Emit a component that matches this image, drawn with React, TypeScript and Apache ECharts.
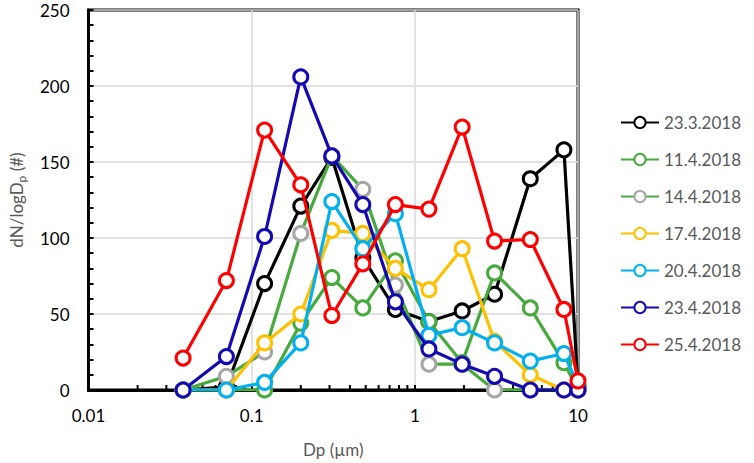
import React, { useEffect, useRef } from "react";
import * as echarts from "echarts";

const diameters = [0.038, 0.07, 0.12, 0.2, 0.31, 0.48, 0.76, 1.22, 1.95, 3.08, 5.1, 8.2, 10];

const s23_3 = [0, 2, 70, 121, 153, 87, 53, 45, 52, 63, 139, 158, 2];
const s11_4 = [0, 0, 0, 44, 74, 54, 85, 45, 18, 77, 54, 18, 0];
const s14_4 = [0, 9, 25, 103, 154, 132, 69, 17, 17, 0, 0, 0, 0];
const s17_4 = [0, 0, 31, 50, 105, 103, 80, 66, 93, 32, 10, 0, 0];
const s20_4 = [0, 0, 5, 31, 124, 93, 116, 36, 41, 31, 19, 24, 3];
const s23_4 = [0, 22, 101, 206, 154, 122, 58, 27, 17, 9, 0, 0, 0];
const s25_4 = [21, 72, 171, 135, 49, 83, 122, 119, 173, 98, 99, 53, 6];

const seriesNames = ["23.3.2018", "11.4.2018", "14.4.2018", "17.4.2018", "20.4.2018", "23.4.2018", "25.4.2018"];
const seriesValues = [s23_3, s11_4, s14_4, s17_4, s20_4, s23_4, s25_4];
const lineColors = ["#000000", "#46AA3C", "#46AA3C", "#FFC000", "#00B0F0", "#140AB4", "#FF0000"];
const markerColors = ["#000000", "#46AA3C", "#A6A6A6", "#FFC000", "#00B0F0", "#140AB4", "#FF0000"];

const minorTickValues = [
  0.02, 0.03, 0.04, 0.05, 0.06, 0.07, 0.08, 0.09,
  0.2, 0.3, 0.4, 0.5, 0.6, 0.7, 0.8, 0.9,
  2, 3, 4, 5, 6, 7, 8, 9,
];

const FONT = "Lato";

export default function App() {
  const ref = useRef<HTMLDivElement>(null);

  useEffect(() => {
    if (!ref.current) return;
    const chart = echarts.init(ref.current, undefined, { renderer: "svg" });

    const lineSeries = seriesNames.map((name, i) => ({
      name,
      type: "line",
      data: diameters.map((d, j) => [d, seriesValues[i][j]]),
      symbol: "circle",
      symbolSize: 14,
      z: 3 + i,
      lineStyle: { color: lineColors[i], width: 3.2 },
      itemStyle: { color: "#ffffff", borderColor: markerColors[i], borderWidth: 3 },
      emphasis: { disabled: true },
    }));

    const tickSeries = {
      name: "minorTicks",
      type: "custom",
      z: 1,
      silent: true,
      data: minorTickValues.map((v) => [v, 0]),
      encode: { x: 0, y: 1 },
      renderItem: (params: any, api: any) => {
        const p = api.coord([api.value(0), 0]);
        return {
          type: "line",
          shape: { x1: p[0], y1: p[1], x2: p[0], y2: p[1] - 5 },
          style: { stroke: "#000", lineWidth: 2 },
        };
      },
    };

    chart.setOption({
      animation: false,
      grid: {
        left: 87,
        top: 10,
        right: 176,
        bottom: 71.5,
        show: true,
        borderColor: "#000",
        borderWidth: 3,
        backgroundColor: "transparent",
      },
      legend: {
        data: seriesNames,
        orient: "vertical",
        left: 620,
        top: 114,
        padding: 0,
        itemWidth: 38,
        itemHeight: 14,
        itemGap: 20,
        textStyle: { fontSize: 17, color: "#595959", fontFamily: FONT },
      },
      xAxis: {
        type: "log",
        logBase: 10,
        min: 0.01,
        max: 10,
        name: "Dp (µm)",
        nameLocation: "middle",
        nameGap: 51,
        nameTextStyle: { fontSize: 17, color: "#595959", fontFamily: FONT },
        axisLine: { show: true, lineStyle: { color: "#000", width: 3 } },
        axisTick: { show: true, inside: true, length: 5, lineStyle: { color: "#000", width: 2 } },
        axisLabel: {
          fontSize: 17,
          color: "#000",
          fontFamily: FONT,
          margin: 17,
          formatter: (v: number) => String(+Number(v).toPrecision(6)),
        },
        splitLine: { show: true, lineStyle: { color: "#D9D9D9", width: 1.5 } },
      },
      yAxis: {
        type: "value",
        min: 0,
        max: 250,
        interval: 50,
        name: "{a|dN/logD}{b|p}{a| (#)}",
        nameLocation: "middle",
        nameGap: 61,
        nameTextStyle: {
          fontSize: 17,
          color: "#595959",
          fontFamily: FONT,
          rich: {
            a: { fontSize: 17, color: "#595959", fontFamily: FONT, lineHeight: 22 },
            b: { fontSize: 12, color: "#595959", fontFamily: FONT, lineHeight: 12, verticalAlign: "bottom" },
          },
        },
        axisLine: { show: true, lineStyle: { color: "#000", width: 3 } },
        axisTick: { show: true, inside: true, length: 5, lineStyle: { color: "#000", width: 2 } },
        minorTick: { show: true, splitNumber: 5, length: 5, lineStyle: { color: "#000", width: 2 } },
        axisLabel: { fontSize: 17, lineHeight: 17, color: "#000", fontFamily: FONT, margin: 19 },
        splitLine: { show: true, lineStyle: { color: "#D9D9D9", width: 1.5 } },
      },
      series: [tickSeries, ...lineSeries],
    });

    return () => chart.dispose();
  }, []);

  return (
    <div
      ref={ref}
      style={{ position: "fixed", left: 0, top: 0, width: 754, height: 463, background: "#fff" }}
    />
  );
}
